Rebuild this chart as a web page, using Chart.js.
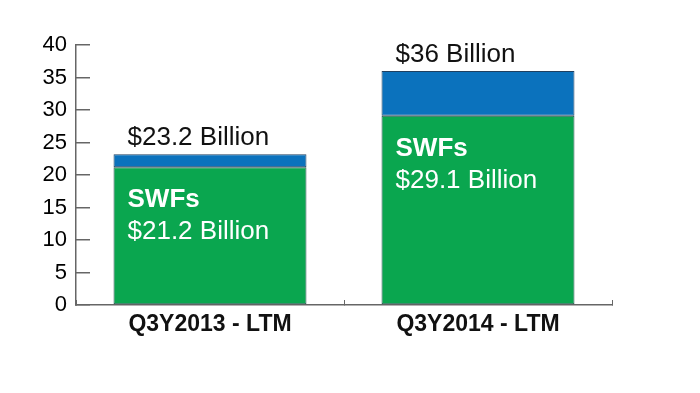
<!DOCTYPE html>
<html>
<head>
<meta charset="utf-8">
<script src="https://cdn.jsdelivr.net/npm/chart.js@4"></script>
<style>
  html, body { margin: 0; padding: 0; background: #fff; }
  #wrap { width: 700px; height: 393px; }
</style>
</head>
<body>
<div id="wrap"><canvas id="swf-chart"></canvas></div>
<script>
const categories = ['Q3Y2013 - LTM', 'Q3Y2014 - LTM'];
const swfValues = [21.2, 29.1];
const otherValues = [2.0, 6.9];
const totalLabels = ['$23.2 Billion', '$36 Billion'];
const swfLabels = ['$21.2 Billion', '$29.1 Billion'];

const FONT = '"Liberation Sans", Arial, Helvetica, sans-serif';

// bar annotations: total above the bar, "SWFs" + amount inside the green part
const barText = {
    id: 'barText',
    afterDatasetsDraw(chart) {
        const ctx = chart.ctx;
        const green = chart.getDatasetMeta(0).data;
        const blue = chart.getDatasetMeta(1).data;
        ctx.save();
        ctx.textAlign = 'left';
        ctx.textBaseline = 'alphabetic';
        categories.forEach((c, i) => {
            const left = green[i].x - green[i].width / 2 + 14;
            ctx.fillStyle = '#111';
            ctx.font = '26px ' + FONT;
            ctx.fillText(totalLabels[i], left, blue[i].y - 9);
            ctx.fillStyle = '#fff';
            ctx.font = 'bold 26px ' + FONT;
            ctx.fillText('SWFs', left, green[i].y + 40);
            ctx.font = '26px ' + FONT;
            ctx.fillText(swfLabels[i], left, green[i].y + 72);
        });
        ctx.restore();
    }
};

new Chart(document.getElementById('swf-chart').getContext('2d'), {
    type: 'bar',
    data: {
        labels: categories,
        datasets: [
            {label: 'SWFs', data: swfValues, backgroundColor: '#0aa64f', borderColor: '#24504e', borderWidth: 1, borderSkipped: false, barPercentage: 0.72, categoryPercentage: 1},
            {label: 'Other', data: otherValues, backgroundColor: '#0b72bd', borderColor: '#1f4060', borderWidth: 1, borderSkipped: false, barPercentage: 0.72, categoryPercentage: 1},
        ]
    },
    options: {
        responsive: true,
        maintainAspectRatio: false,
        animation: false,
        layout: {padding: {top: 45, right: 88, left: 0, bottom: 0}},
        plugins: {legend: {display: false}, tooltip: {enabled: false}},
        scales: {
            x: {
                stacked: true,
                grid: {display: true, drawOnChartArea: false, drawTicks: true, tickLength: -5, color: '#666', offset: true},
                border: {color: '#666', width: 1.5},
                ticks: {color: '#111', font: {family: FONT, size: 23, weight: 'bold'}, padding: 11},
                afterFit: s => { s.height = 88; }
            },
            y: {
                stacked: true,
                min: 0,
                max: 40,
                grid: {display: true, drawOnChartArea: false, drawTicks: true, tickLength: -14, color: '#666', lineWidth: 1.5},
                border: {color: '#666', width: 1.5},
                ticks: {stepSize: 5, color: '#000', font: {family: FONT, size: 22}, padding: 23},
                afterFit: s => { s.width = 76; }
            }
        }
    },
    plugins: [barText]
});
</script>
</body>
</html>
